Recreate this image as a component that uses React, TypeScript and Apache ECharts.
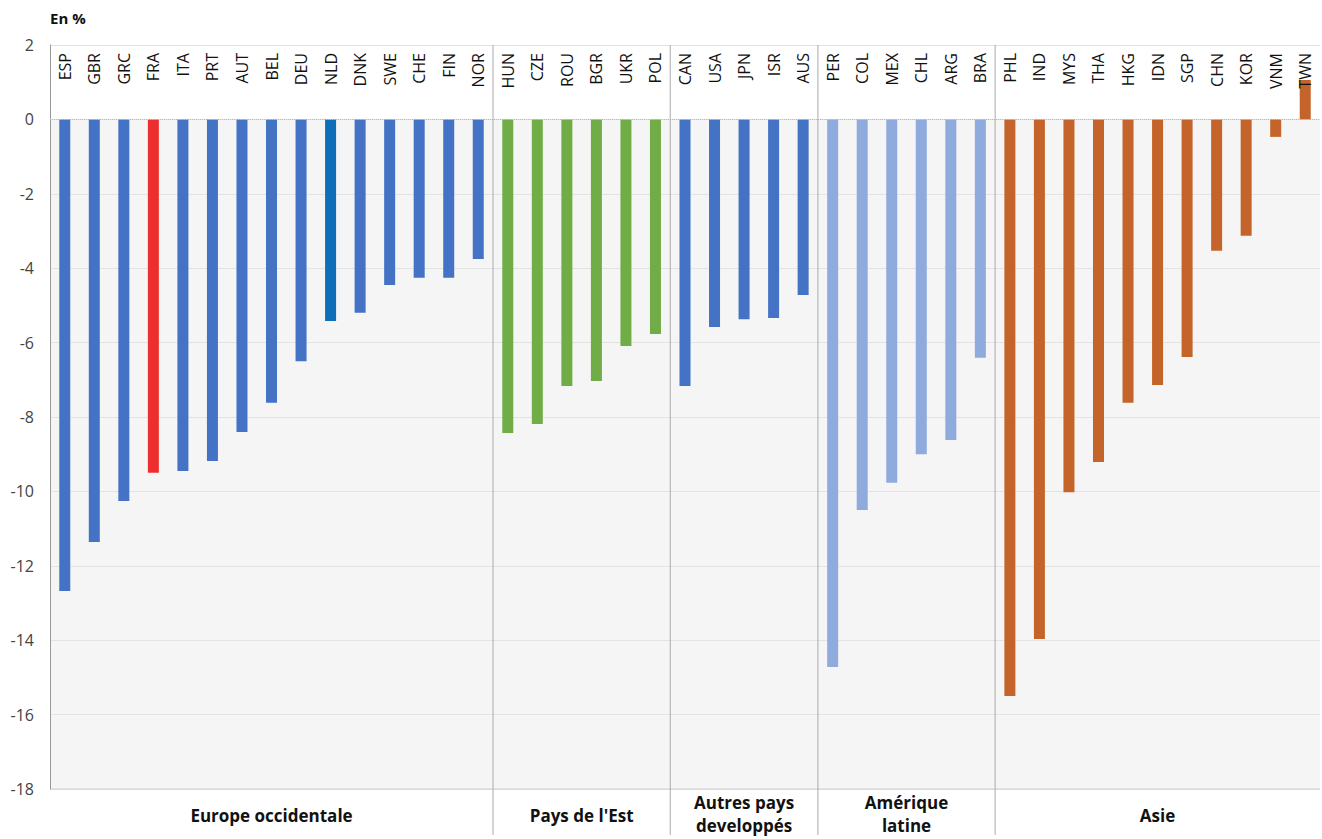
import React, { useEffect, useRef } from 'react';
import * as echarts from 'echarts';

const categories = [
  'ESP', 'GBR', 'GRC', 'FRA', 'ITA', 'PRT', 'AUT', 'BEL', 'DEU', 'NLD', 'DNK', 'SWE', 'CHE', 'FIN', 'NOR',
  'HUN', 'CZE', 'ROU', 'BGR', 'UKR', 'POL',
  'CAN', 'USA', 'JPN', 'ISR', 'AUS',
  'PER', 'COL', 'MEX', 'CHL', 'ARG', 'BRA',
  'PHL', 'IND', 'MYS', 'THA', 'HKG', 'IDN', 'SGP', 'CHN', 'KOR', 'VNM', 'TWN',
];
const values = [
  -12.68, -11.36, -10.26, -9.5, -9.45, -9.18, -8.4, -7.62, -6.5, -5.42, -5.2, -4.45, -4.26, -4.26, -3.75,
  -8.43, -8.19, -7.17, -7.03, -6.09, -5.77,
  -7.17, -5.58, -5.37, -5.34, -4.72,
  -14.72, -10.5, -9.77, -9.0, -8.62, -6.41,
  -15.5, -13.97, -10.02, -9.21, -7.62, -7.14, -6.39, -3.53, -3.13, -0.47, 1.06,
];
const groupNames = ['Europe occidentale', "Pays de l'Est", 'Autres pays\ndeveloppés', 'Amérique\nlatine', 'Asie'];
const groupSizes = [15, 6, 5, 6, 11];
const groupColors = ['#4472C4', '#70AD47', '#4472C4', '#8FAADC', '#C5642A'];
const specialColors: Record<string, string> = { FRA: '#EE2E2E', NLD: '#0E6EB8' };

const FONT = '"Open Sans", "Liberation Sans", sans-serif';

const App = () => {
  const ref = useRef<HTMLDivElement>(null);

  useEffect(() => {
    const chart = echarts.init(ref.current, null, { renderer: 'svg' });
    const colors: string[] = [];
    groupSizes.forEach((n, g) => { for (let i = 0; i < n; i++) colors.push(groupColors[g]); });
    const data = values.map((v, i) => ({
      value: v,
      itemStyle: { color: specialColors[categories[i]] || colors[i] },
    }));

    chart.setOption({
      animation: false,
      grid: { left: 50, right: 2, top: 45, bottom: 50 },
      xAxis: {
        type: 'category',
        position: 'top',
        data: categories,
        axisLine: { show: false },
        axisTick: { show: false },
        axisLabel: {
          inside: true, rotate: 90, margin: 8, fontSize: 16, color: '#111', fontFamily: FONT,
        },
        z: 5,
      },
      yAxis: {
        type: 'value', min: -18, max: 2, interval: 2,
        axisLine: { show: true, lineStyle: { color: '#999' } },
        axisTick: { show: false },
        splitLine: { lineStyle: { color: '#e3e3e3' } },
        axisLabel: { fontSize: 16, color: '#444', fontFamily: FONT, margin: 16 },
      },
      series: [{
        type: 'bar',
        data,
        barWidth: 11,
        markArea: {
          silent: true,
          itemStyle: { color: '#F5F5F5' },
          data: [[{ yAxis: 0 }, { yAxis: -18 }]],
          z: -1,
        },
        markLine: {
          silent: true,
          symbol: 'none',
          label: { show: false },
          lineStyle: { color: '#bbb', type: 'dotted', width: 1 },
          data: [{ yAxis: 0 }],
        },
      }],
    });

    const top = 45;
    const plotBottom = 839 - 50;
    const graphic: any[] = [
      { type: 'text', left: 50, top: 10, style: { text: 'En %', font: `bold 15px ${FONT}`, fill: '#111' } },
      { type: 'line', shape: { x1: 50, y1: plotBottom, x2: 1320, y2: plotBottom }, style: { stroke: '#d0d0d0', lineWidth: 1 } },
    ];
    let start = 0;
    const step = (chart.convertToPixel({ xAxisIndex: 0 }, 1) as number) - (chart.convertToPixel({ xAxisIndex: 0 }, 0) as number);
    groupSizes.forEach((n, g) => {
      const x0 = (chart.convertToPixel({ xAxisIndex: 0 }, start) as number) - step / 2;
      const x1 = (chart.convertToPixel({ xAxisIndex: 0 }, start + n - 1) as number) + step / 2;
      if (g > 0) {
        graphic.push({ type: 'line', shape: { x1: x0, y1: top, x2: x0, y2: 835 }, style: { stroke: '#aaa', lineWidth: 1 } });
      }
      const twoLines = groupNames[g].includes('\n');
      graphic.push({
        type: 'text',
        x: (x0 + x1) / 2,
        y: twoLines ? 791 : 804,
        style: {
          text: groupNames[g], font: `bold 17px ${FONT}`, fill: '#111',
          textAlign: 'center', lineHeight: 23,
        },
      });
      start += n;
    });
    chart.setOption({ graphic });

    return () => chart.dispose();
  }, []);

  return <div ref={ref} style={{ width: 1322, height: 839, position: 'absolute', left: 0, top: 0, background: '#fff' }} />;
};

export default App;
